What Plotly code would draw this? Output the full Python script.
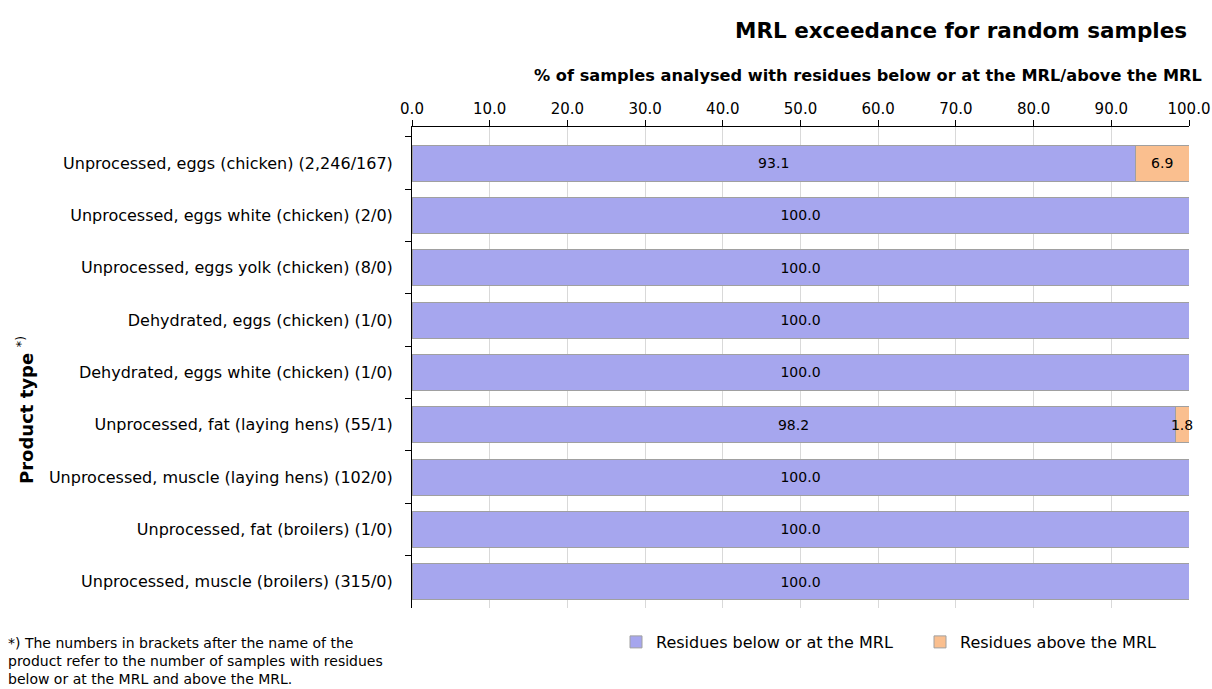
import plotly.graph_objects as go

categories = [
    "Unprocessed, eggs (chicken) (2,246/167)",
    "Unprocessed, eggs white (chicken) (2/0)",
    "Unprocessed, eggs yolk (chicken) (8/0)",
    "Dehydrated, eggs (chicken) (1/0)",
    "Dehydrated, eggs white (chicken) (1/0)",
    "Unprocessed, fat (laying hens) (55/1)",
    "Unprocessed, muscle (laying hens) (102/0)",
    "Unprocessed, fat (broilers) (1/0)",
    "Unprocessed, muscle (broilers) (315/0)",
]
below_mrl = [93.1, 100.0, 100.0, 100.0, 100.0, 98.2, 100.0, 100.0, 100.0]
above_mrl = [6.9, 0.0, 0.0, 0.0, 0.0, 1.8, 0.0, 0.0, 0.0]
x_ticks = [0, 10, 20, 30, 40, 50, 60, 70, 80, 90, 100]

FONT = "DejaVu Sans"
fig = go.Figure()
fig.add_trace(go.Bar(
    y=categories, x=below_mrl, orientation="h", name="Residues below or at the MRL",
    marker=dict(color="#A6A6EE", line=dict(color="#A0A0A0", width=1)),
    text=[f"{v:.1f}" if v > 0 else "" for v in below_mrl],
    textposition="inside", insidetextanchor="middle", constraintext="none", textangle=0,
    textfont=dict(color="black", size=14, family=FONT), hoverinfo="skip", cliponaxis=False,
))
fig.add_trace(go.Bar(
    y=categories, x=above_mrl, orientation="h", name="Residues above the MRL",
    marker=dict(color="#FABF8F", line=dict(color="#A0A0A0", width=1)),
    text=[f"{v:.1f}" if v > 0 else "" for v in above_mrl],
    textposition="inside", insidetextanchor="middle", constraintext="none", textangle=0,
    textfont=dict(color="black", size=14, family=FONT), hoverinfo="skip", cliponaxis=False,
))

W, H = 1212, 689
L, R, T, B = 412, 23, 127, 81
pw, ph = W - L - R, H - T - B

def px(xp):
    return (xp - L) / pw

def py(yp):
    return (H - B - yp) / ph

fig.update_layout(
    width=W, height=H, barmode="stack", bargap=0.31,
    plot_bgcolor="white", paper_bgcolor="white",
    margin=dict(l=L, r=R, t=T, b=B, autoexpand=False),
    font=dict(family=FONT, size=14, color="black"),
    showlegend=True,
    legend=dict(orientation="h", x=px(616), y=py(642), xanchor="left", yanchor="middle",
                font=dict(size=16, family=FONT), entrywidth=259, entrywidthmode="pixels",
                itemwidth=30, traceorder="normal", bgcolor="rgba(0,0,0,0)"),
    xaxis=dict(side="top", range=[0, 100], tickvals=x_ticks,
               ticktext=[f"{v:.1f}" for v in x_ticks],
               showgrid=True, gridcolor="#D9D9D9", gridwidth=1,
               showline=True, linecolor="black", linewidth=1,
               ticks="outside", ticklen=6, tickcolor="black", automargin=False,
               tickfont=dict(size=15, family=FONT), zeroline=False),
    yaxis=dict(range=[8.5, -0.69], tickson="boundaries", ticks="outside", ticklen=6,
               tickcolor="black", showline=True, linecolor="black", linewidth=1,
               showgrid=False, tickfont=dict(size=16, family=FONT), ticklabelstandoff=15,
               automargin=False),
)

fig.add_annotation(text="<b>MRL exceedance for random samples</b>", xref="paper", yref="paper",
                   x=px(1189), y=py(30), xanchor="right", yanchor="middle", showarrow=False,
                   font=dict(size=21.5, family=FONT))
fig.add_annotation(text="<b>% of samples analysed with residues below or at the MRL/above the MRL</b>",
                   xref="paper", yref="paper", x=px(1204), y=py(75), xanchor="right", yanchor="middle",
                   showarrow=False, font=dict(size=16.2, family=FONT))
fig.add_annotation(text="<b>Product type</b> <sup>*)</sup>", xref="paper", yref="paper",
                   x=px(25), y=py(410), xanchor="center", yanchor="middle", textangle=-90,
                   showarrow=False, font=dict(size=18, family=FONT))
fig.add_annotation(text="*) The numbers in brackets after the name of the<br>product refer to the number of samples with residues<br>below or at the MRL and above the MRL.",
                   xref="paper", yref="paper", x=px(6), y=py(633), xanchor="left", yanchor="top",
                   align="left", showarrow=False, font=dict(size=14, family=FONT))

fig.write_html("out.html", config={"displayModeBar": False},
               post_script="document.body.style.margin='0';document.documentElement.style.overflow='hidden';document.body.style.overflow='hidden';")
